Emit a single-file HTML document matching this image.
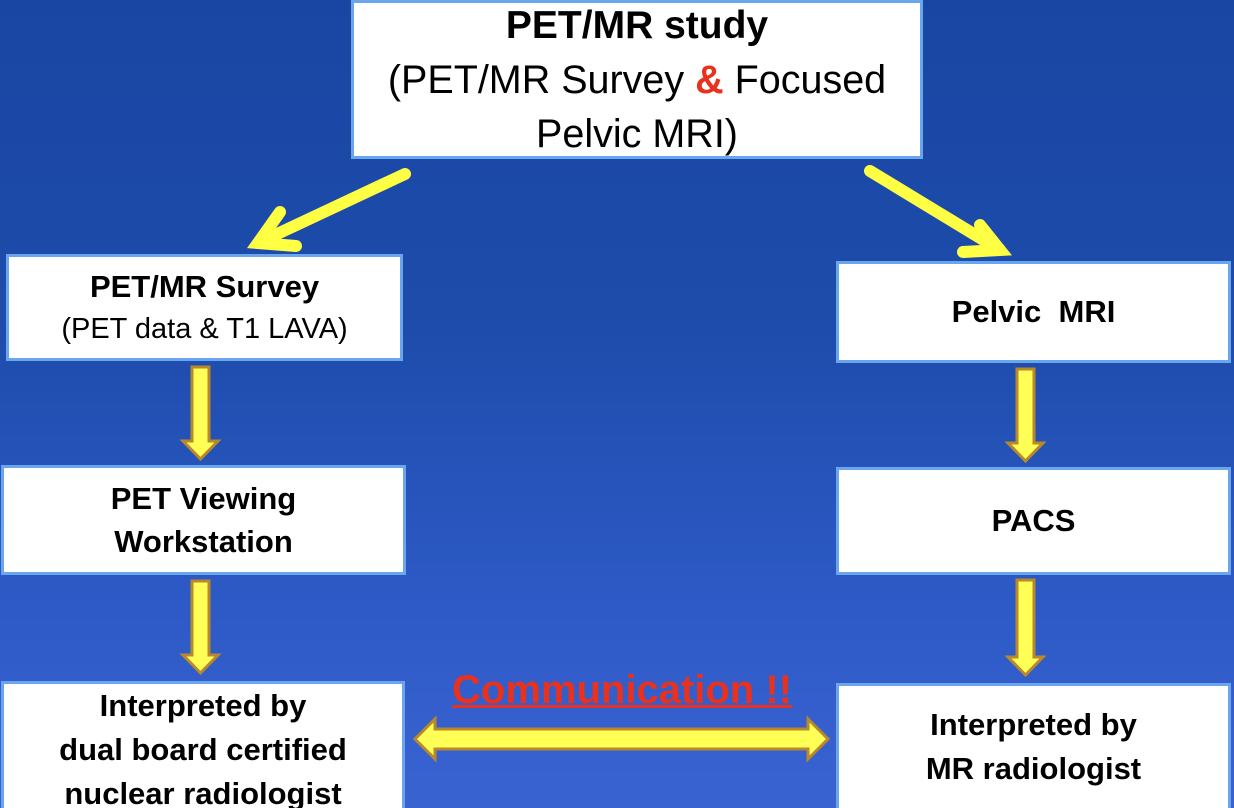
<!DOCTYPE html>
<html><head><meta charset="utf-8"><style>
html,body{margin:0;padding:0;width:1234px;height:808px;overflow:hidden}
body{position:relative;background:linear-gradient(180deg,#1a46a3 0%,#1d4cab 40%,#2d5ac6 75%,#3a63d2 100%);font-family:"Liberation Sans",sans-serif}
.b{position:absolute;background:#fff;border:3px solid #6aa6ee;box-sizing:border-box;display:flex;flex-direction:column;align-items:center;justify-content:center;text-align:center;color:#000;font-weight:bold;white-space:nowrap}
svg{position:absolute;left:0;top:0}
</style></head><body>
<div class="b" style="left:351px;top:0px;width:572px;height:159px;font-size:39.5px;font-weight:normal;line-height:54px"><div style="font-weight:bold;font-size:39px">PET/MR study</div><div>(PET/MR Survey <b style="color:#e8321e">&amp;</b> Focused</div><div>Pelvic MRI)</div></div>
<div class="b" style="left:6px;top:254px;width:397px;height:107px;font-size:31px;line-height:42px"><div>PET/MR Survey</div><div style="font-weight:normal;font-size:29px">(PET data &amp; T1 LAVA)</div></div>
<div class="b" style="left:836px;top:261px;width:395px;height:102px;font-size:31px">Pelvic&nbsp; MRI</div>
<div class="b" style="left:1px;top:465px;width:405px;height:110px;font-size:31px;line-height:43px"><div>PET Viewing</div><div>Workstation</div></div>
<div class="b" style="left:836px;top:467px;width:395px;height:108px;font-size:31px">PACS</div>
<div class="b" style="left:1px;top:681px;width:404px;height:140px;font-size:31px;line-height:44px;justify-content:flex-start;padding-top:0"><div>Interpreted by</div><div>dual board certified</div><div>nuclear radiologist</div></div>
<div class="b" style="left:836px;top:683px;width:395px;height:135px;font-size:31px;line-height:44px;justify-content:flex-start;padding-top:17px"><div>Interpreted by</div><div>MR radiologist</div></div>
<div style="position:absolute;left:402px;top:666px;width:440px;text-align:center;color:#e8321e;font-weight:bold;font-size:40px;text-decoration:underline;text-decoration-thickness:3px;line-height:48px">Communication !!</div>
<svg width="1234" height="808">
<g stroke="#ffff44" stroke-width="12" stroke-linecap="round" fill="none">
<line x1="405" y1="174" x2="258" y2="243"/>
<polyline points="280,212 258,243 296,246"/>
<line x1="870" y1="171" x2="1000" y2="250"/>
<polyline points="980,225 1000,250 963,252"/>
</g>
<g fill="#ffff55" stroke="#b8892a" stroke-width="3">
<polygon points="192,367 209,367 209,441 218,441 200.5,459 183,441 192,441"/>
<polygon points="192,581 209,581 209,655 218,655 200.5,673 183,655 192,655"/>
<polygon points="1017,369 1034,369 1034,443 1043,443 1025.5,461 1008,443 1017,443"/>
<polygon points="1017,580 1034,580 1034,657 1043,657 1025.5,675 1008,657 1017,657"/>
<polygon points="415,739 435,719 435,729 808,729 808,719 828,739 808,759 808,749 435,749 435,759"/>
</g>
</svg>
</body></html>
